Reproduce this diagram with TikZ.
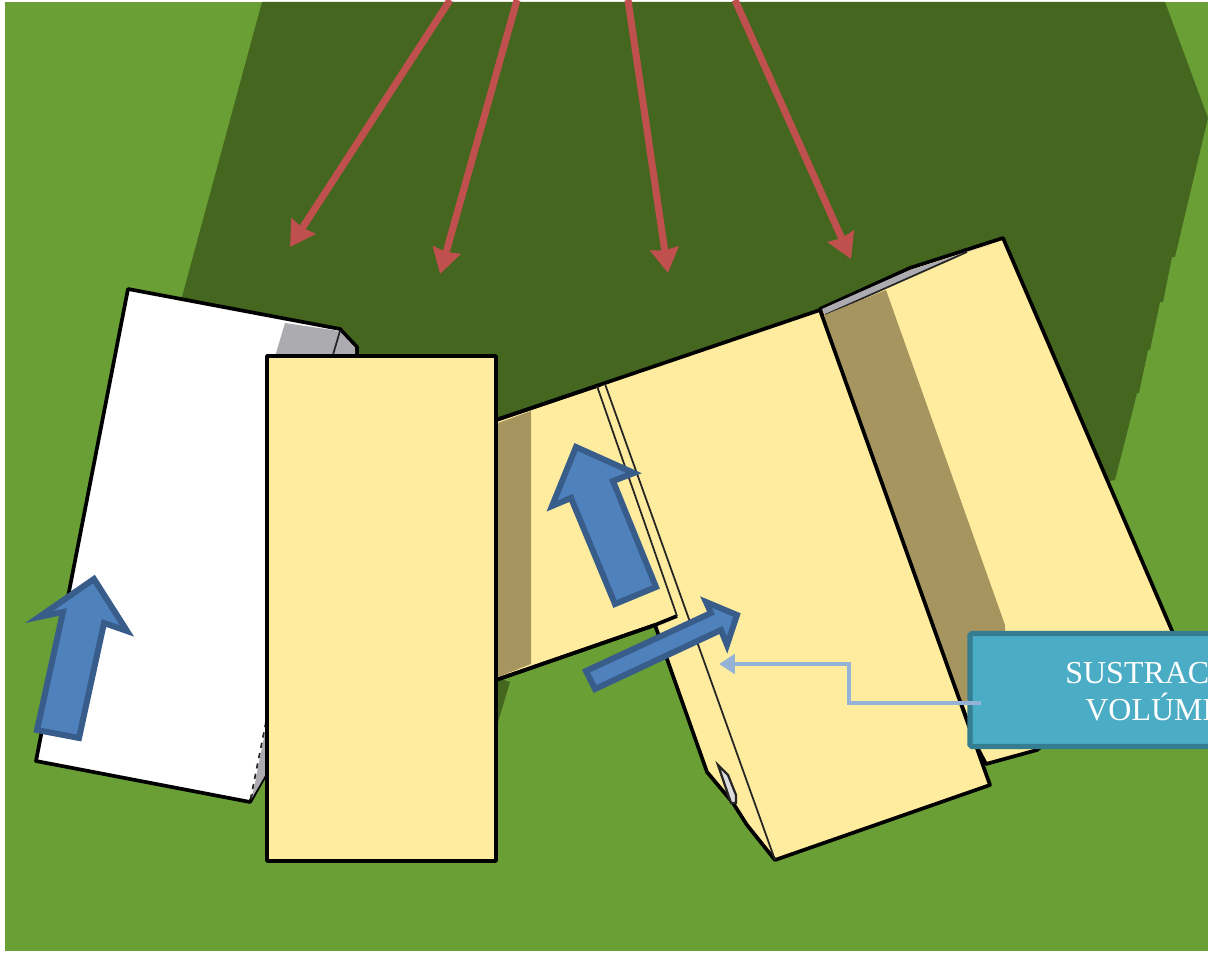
\documentclass[tikz,border=0pt]{standalone}
\usepackage{fontspec}
\setmainfont{Liberation Serif}
\usetikzlibrary{arrows.meta}
\definecolor{pasto}{HTML}{699F35}
\definecolor{sombra}{HTML}{44661F}
\definecolor{techo}{HTML}{FFEC9E}
\definecolor{tostado}{HTML}{A6955F}
\definecolor{gris}{HTML}{ABABB0}
\definecolor{rojo}{HTML}{C0504D}
\definecolor{azul}{HTML}{4F81BD}
\definecolor{azulb}{HTML}{385D8A}
\definecolor{cian}{HTML}{4BACC6}
\definecolor{cianb}{HTML}{357D91}
\definecolor{enlace}{HTML}{95B3D7}
\tikzset{
  borde/.style={draw=black,line width=2.1pt,line join=round},
  fina/.style={draw=black!85,line width=1pt},
  flecha/.style={draw=azulb,fill=azul,line width=3.4pt,line join=miter,miter limit=12},
  rayo/.style={draw=rojo,line width=4pt,-{Stealth[length=14pt,width=16pt,inset=1pt]}},
  guia/.style={draw=enlace,line width=2.6pt,-{Stealth[length=9pt,width=11pt,inset=0pt]}},
  rotulo/.style={anchor=base west,inner sep=0pt,text=white,font=\fontsize{18.2}{22}\selectfont},
}
\begin{document}
\begin{tikzpicture}[x=0.02cm,y=-0.02cm]
\useasboundingbox (0,0) rectangle (1208,953);
\clip (0,0) rectangle (1208,953);
\fill[pasto] (5,2) rectangle (1208,951);
\fill[sombra] (262,2) -- (1165,2) -- (1208,118) -- (1175,257) -- (1172,257) -- (1163,302) -- (1160,302) -- (1150,350) -- (1148,350) -- (1139,393) -- (1137,393) -- (1127,433) -- (1115,480) -- (1000,500) -- (496,500) -- (182,297) -- cycle;
\fill[sombra] (497,678) -- (510,682) -- (498,722) -- cycle;
\draw[borde,fill=white] (128,289) -- (340,329) -- (357,347) -- (357,360) -- (268,770) -- (250,802) -- (36,761) -- cycle;
\fill[gris] (285,323) -- (339,331) -- (355,348) -- (355,360) -- (274,360) -- cycle;
\fill[gris] (267,722) -- (252,798) -- (267,772) -- cycle;
\draw[fina] (340,331) -- (332,358);
\draw[fina,dashed] (266,722) -- (250,802);
\draw[borde,fill=techo] (1003,238) -- (1176,640) -- (1037,750) -- (986,764) -- (976,745) -- (820,309) -- (910,268) -- cycle;
\fill[gris] (822,309) -- (910,270) -- (990,245) -- (967,252) -- (825,315) -- cycle;
\draw[fina] (825,315) -- (967,252);
\fill[tostado] (822,316) -- (886,290) -- (1005,625) -- (1005,650) -- (960,710) -- cycle;
\draw[borde,fill=techo] (496,420) -- (820,310) -- (990,785) -- (775,860) -- (747,825) -- (733,803) -- (707,772) -- (655,625) -- (496,680) -- cycle;
\draw[borde] (655,625) -- (677,616);
\fill[tostado] (498,423) -- (531,411) -- (531,664) -- (498,677) -- cycle;
\draw[borde] (496,420) -- (600,385);
\draw[borde] (496,680) -- (655,625);
\draw[fina] (597,386) -- (677,616);
\draw[fina] (605,384) -- (775,860);
\draw[fina,fill=gris!40,line width=1.3pt] (718,765) -- (728,775) -- (736,795) -- (736,803) -- (731,803) -- cycle;
\draw[borde,fill=techo] (267,356) rectangle (496,861);
\draw[flecha] (94,579) -- (127,631) -- (104,623) -- (79,738) -- (37,730) -- (63,612) -- (39,617) -- cycle;
\draw[flecha] (576,447) -- (634,473) -- (613,481) -- (656,587) -- (615,604) -- (571,498) -- (552,506) -- cycle;
\draw[flecha] (737,615) -- (727,645) -- (721,630) -- (595,689) -- (586,671) -- (711,613) -- (706,602) -- cycle;
\foreach \i/\a/\b/\c/\d in {1/450/0/290/247,2/517/0/440/274,3/628/0/668/273,4/735/0/851/259}{
  \coordinate (inicio\i) at (\a,\b);
  \coordinate (punta\i) at (\c,\d);
  \draw[rayo] (inicio\i) -- (punta\i);}
\node[draw=cianb,fill=cian,line width=3pt,rounded corners=1pt,minimum width=5.2cm,minimum height=2.26cm,inner sep=0pt] (caja) at (1100,690) {};
\node[rotulo] (sust) at (1065,683) {SUSTRAC};
\node[rotulo] (volu) at (1085,720) {VOLÚME};
\coordinate (salida) at (981,703);
\coordinate (muro) at (719,664);
\draw[guia] (salida) -- (849,703) |- (muro);
\end{tikzpicture}
\end{document}
